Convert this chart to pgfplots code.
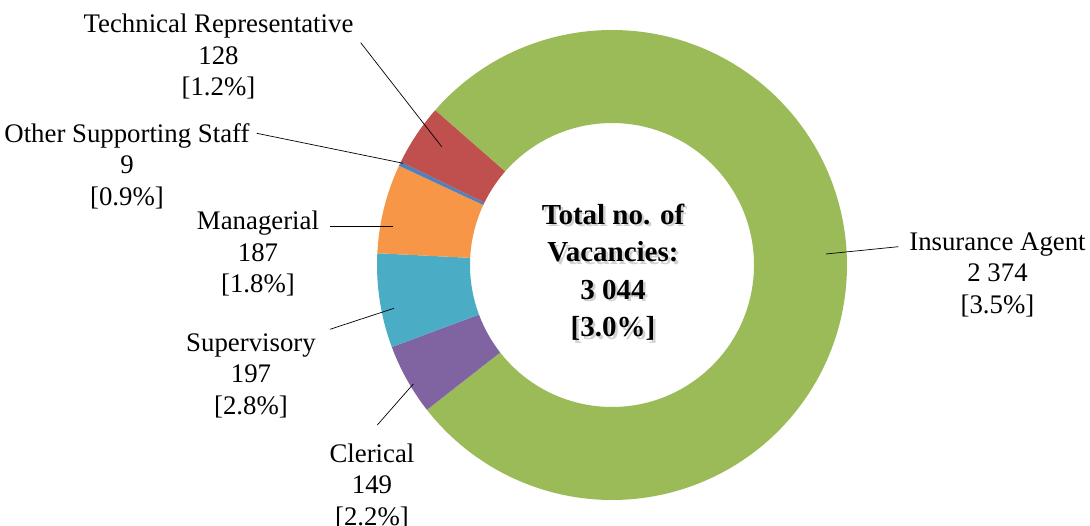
\documentclass[border=0pt]{standalone}
\usepackage{pgfplots}
\pgfplotsset{compat=1.18}
\usepackage{pgfplotstable}
\usepackage{fontspec}
\setmainfont{Liberation Serif}
\definecolor{cIns}{HTML}{9BBB59}
\definecolor{cCle}{HTML}{8064A2}
\definecolor{cSup}{HTML}{4BACC6}
\definecolor{cMan}{HTML}{F79646}
\definecolor{cOth}{HTML}{4F81BD}
\definecolor{cTec}{HTML}{C0504D}
\pgfplotstableread{
name value colour
Insurance 2374 cIns
Clerical 149 cCle
Supervisory 197 cSup
Managerial 187 cMan
Other 9 cOth
Technical 128 cTec
}\donut
\newcommand\pc[1]{[#1\%]}
\def\cx{612}
\def\cy{261}
\def\Ro{235}
\def\Ri{142}
\begin{document}
\begin{tikzpicture}
\begin{axis}[hide axis, x=1pt, y=1pt, xmin=0, xmax=1090, ymin=0, ymax=526,
  anchor=origin, at={(0,0)}, clip=false, scale only axis]
% total
\def\tot{0}
\pgfplotsforeachungrouped \i in {0,...,5}{%
  \pgfplotstablegetelem{\i}{value}\of\donut
  \pgfmathsetmacro\tot{\tot+\pgfplotsretval}%
}
\def\angcur{138.8}
\pgfplotsforeachungrouped \i in {0,...,5}{%
  \pgfplotstablegetelem{\i}{value}\of\donut \let\v=\pgfplotsretval
  \pgfplotstablegetelem{\i}{colour}\of\donut \let\c=\pgfplotsretval
  \pgfmathsetmacro\angnext{\angcur - \v/\tot*360}%
  \edef\cmd{\noexpand\fill[\c] (axis cs:{\cx+\Ro*cos(\angcur)},{\cy+\Ro*sin(\angcur)}) arc[start angle=\angcur, end angle=\angnext, radius=\Ro pt] -- (axis cs:{\cx+\Ri*cos(\angnext)},{\cy+\Ri*sin(\angnext)}) arc[start angle=\angnext, end angle=\angcur, radius=\Ri pt] -- cycle;}%
  \cmd
  \global\let\angcur\angnext
}
% leader lines
\draw[black, line width=0.7pt] (axis cs:360.7,483.3) -- (axis cs:441.7,379.3);
\draw[black, line width=0.7pt] (axis cs:256.7,392.7) -- (axis cs:403.3,362.7);
\draw[black, line width=0.7pt] (axis cs:330,299.3) -- (axis cs:393.3,299.3);
\draw[black, line width=0.7pt] (axis cs:330,196.7) -- (axis cs:394,217.7);
\draw[black, line width=0.7pt] (axis cs:377.3,101) -- (axis cs:413.3,142);
\draw[black, line width=0.7pt] (axis cs:826,272) -- (axis cs:898.3,279.3);
% labels (anchor base = baseline of last line)
\tikzset{lab/.style={align=center, anchor=base, inner sep=0pt, font=\fontsize{26.8}{31.3}\selectfont}}
\node[lab] at (axis cs:218.5,430.4) {Technical Representative\\128\\\pc{1.2}};
\node[lab] at (axis cs:127,320.7) {Other Supporting Staff\\9\\\pc{0.9}};
\node[lab] at (axis cs:258,233.4) {Managerial\\187\\\pc{1.8}};
\node[lab] at (axis cs:251,111.7) {Supervisory\\197\\\pc{2.8}};
\node[lab] at (axis cs:372,0.7) {Clerical\\149\\\pc{2.2}};
\node[lab] at (axis cs:997.5,212.7) {Insurance Agent\\2 374\\\pc{3.5}};
% centre text with shadow
\tikzset{ctr/.style={align=center, anchor=base, inner sep=0pt, font=\fontsize{29}{37.5}\selectfont\bfseries}}
\node[ctr, text=black!30, opacity=0.6] at (axis cs:615.5,186.7) {Total no. of\\Vacancies:\\3 044\\\pc{3.0}};
\node[ctr] at (axis cs:613,189.2) {Total no. of\\Vacancies:\\3 044\\\pc{3.0}};
\end{axis}
\pgfresetboundingbox
\path[use as bounding box] (0,0) rectangle (1090pt,526pt);
\end{tikzpicture}
\end{document}
